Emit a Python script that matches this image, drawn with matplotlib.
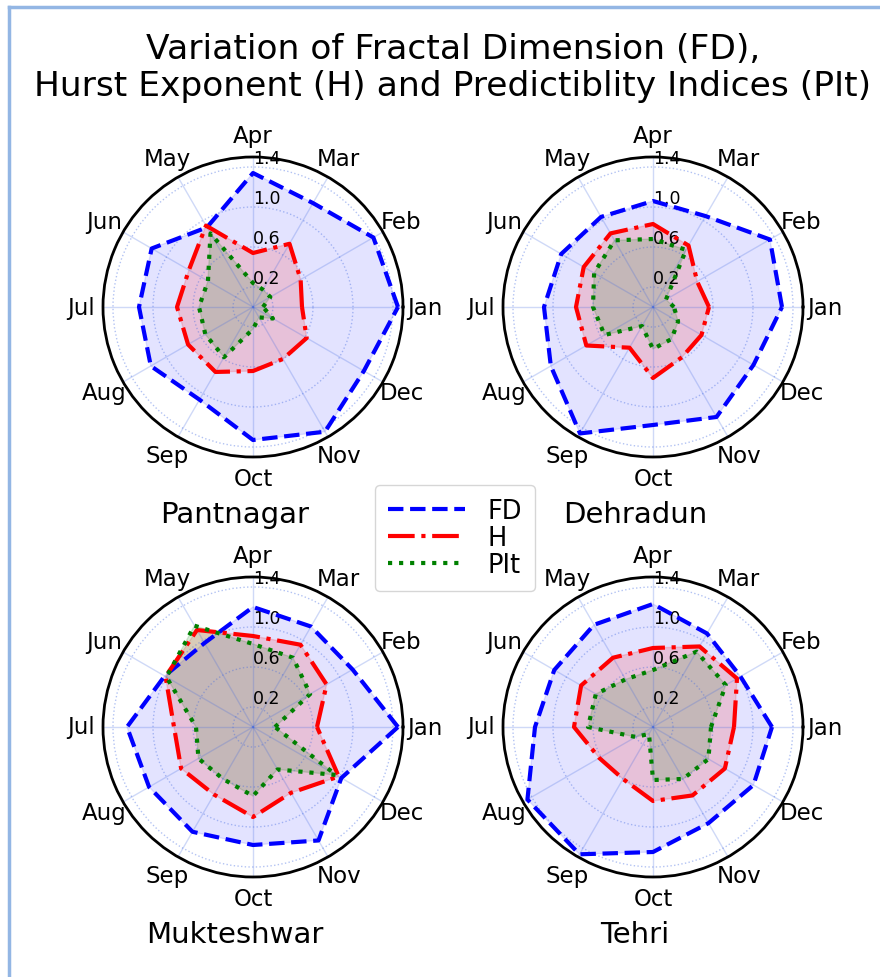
import numpy as np
import matplotlib.pyplot as plt
from matplotlib.lines import Line2D

months = ['Jan', 'Feb', 'Mar', 'Apr', 'May', 'Jun',
          'Jul', 'Aug', 'Sep', 'Oct', 'Nov', 'Dec']
stations = ['Pantnagar', 'Dehradun', 'Mukteshwar', 'Tehri']

# values, Jan..Dec
fd_pantnagar = [1.45, 1.39, 1.20, 1.34, 0.92, 1.17, 1.14, 1.18, 1.07, 1.33, 1.44, 1.28]
h_pantnagar = [0.49, 0.55, 0.73, 0.54, 0.94, 0.74, 0.76, 0.75, 0.75, 0.64, 0.60, 0.62]
pit_pantnagar = [0.10, 0.20, 0.20, 0.24, 0.85, 0.52, 0.54, 0.55, 0.58, 0.22, 0.12, 0.23]

fd_dehradun = [1.29, 1.35, 1.05, 1.06, 1.04, 1.06, 1.09, 1.18, 1.46, 1.18, 1.27, 1.16]
h_dehradun = [0.56, 0.51, 0.71, 0.83, 0.85, 0.80, 0.77, 0.77, 0.47, 0.71, 0.58, 0.56]
pit_dehradun = [0.21, 0.15, 0.66, 0.68, 0.77, 0.68, 0.60, 0.56, 0.22, 0.42, 0.37, 0.29]

fd_mukteshwar = [1.45, 1.15, 1.16, 1.20, 0.97, 1.02, 1.26, 1.20, 1.21, 1.18, 1.31, 1.02]
h_mukteshwar = [0.64, 0.85, 0.95, 0.91, 1.12, 1.01, 0.79, 0.83, 0.78, 0.90, 0.76, 0.99]
pit_mukteshwar = [0.22, 0.66, 0.80, 0.83, 1.17, 1.00, 0.57, 0.63, 0.60, 0.69, 0.49, 0.96]

fd_tehri = [1.19, 1.01, 1.08, 1.23, 1.18, 1.14, 1.18, 1.45, 1.47, 1.25, 1.11, 1.16]
h_tehri = [0.81, 0.97, 0.93, 0.79, 0.80, 0.83, 0.79, 0.62, 0.60, 0.74, 0.79, 0.83]
pit_tehri = [0.58, 0.84, 0.87, 0.57, 0.55, 0.66, 0.65, 0.20, 0.08, 0.53, 0.60, 0.64]

fd_all = [fd_pantnagar, fd_dehradun, fd_mukteshwar, fd_tehri]
h_all = [h_pantnagar, h_dehradun, h_mukteshwar, h_tehri]
pit_all = [pit_pantnagar, pit_dehradun, pit_mukteshwar, pit_tehri]

angles = np.linspace(0, 2 * np.pi, len(months), endpoint=False)
angles_closed = np.append(angles, angles[0])

def closed(v):
    return np.append(v, v[0])

W, H = 880, 978
fig = plt.figure(figsize=(W / 100, H / 100), dpi=100)

# axes placement (pixel centres of the four polar plots)
centres = [(253, 308), (653, 308), (253, 728), (653, 728)]
rad = 150

for i, name in enumerate(stations):
    cx, cy = centres[i]
    ax = fig.add_axes([(cx - rad) / W, (H - cy - rad) / H, 2 * rad / W, 2 * rad / H],
                      projection='polar')
    ax.plot(angles_closed, closed(fd_all[i]), color='b', linestyle='--', lw=3, label='FD')
    ax.fill(angles_closed, closed(fd_all[i]), color='b', alpha=0.11)
    ax.plot(angles_closed, closed(h_all[i]), color='r', linestyle='-.', lw=3, label='H')
    ax.fill(angles_closed, closed(h_all[i]), color='r', alpha=0.15)
    ax.plot(angles_closed, closed(pit_all[i]), color='g', linestyle=':', lw=3, label='PIt')
    ax.fill(angles_closed, closed(pit_all[i]), color='g', alpha=0.15)

    ax.set_ylim(0, 1.5)
    ax.set_xticks(angles)
    ax.set_xticklabels(months, fontsize=16.5)
    ax.tick_params(axis='x', pad=5)
    ax.set_yticks([0.2, 0.6, 1.0, 1.4])
    ax.set_yticklabels(['0.2', '0.6', '1.0', '1.4'], fontsize=12.5)
    ax.set_rlabel_position(90)
    ax.grid(color='royalblue', alpha=0.4, linestyle=':', lw=1)
    ax.xaxis.grid(True, linestyle='-', alpha=0.25)
    ax.spines['polar'].set_linewidth(2)
    ax.text(0.44, -0.19, name, transform=ax.transAxes, fontsize=21,
            ha='center', va='center')

    if i == 0:
        handles, labels = ax.get_legend_handles_labels()

fig.legend(handles, labels, loc='center', bbox_to_anchor=(455 / W, 1 - 539 / H),
           fontsize=18.5, handlelength=3, labelspacing=0.05, borderpad=0.5,
           handletextpad=0.9)

fig.text(453 / W, 1 - 68 / H,
         'Variation of Fractal Dimension (FD),\nHurst Exponent (H) and Predictiblity Indices (PIt)',
         ha='center', va='center', fontsize=24.8, linespacing=1.15)

# light blue frame along the top and left edges
fig.add_artist(Line2D([9 / W, 9 / W], [0, 1 - 8 / H], transform=fig.transFigure,
                      color='#93b6e4', lw=2.5))
fig.add_artist(Line2D([9 / W, 1], [1 - 8 / H, 1 - 8 / H], transform=fig.transFigure,
                      color='#93b6e4', lw=2.5))

fig.savefig('out.png', dpi=100)
